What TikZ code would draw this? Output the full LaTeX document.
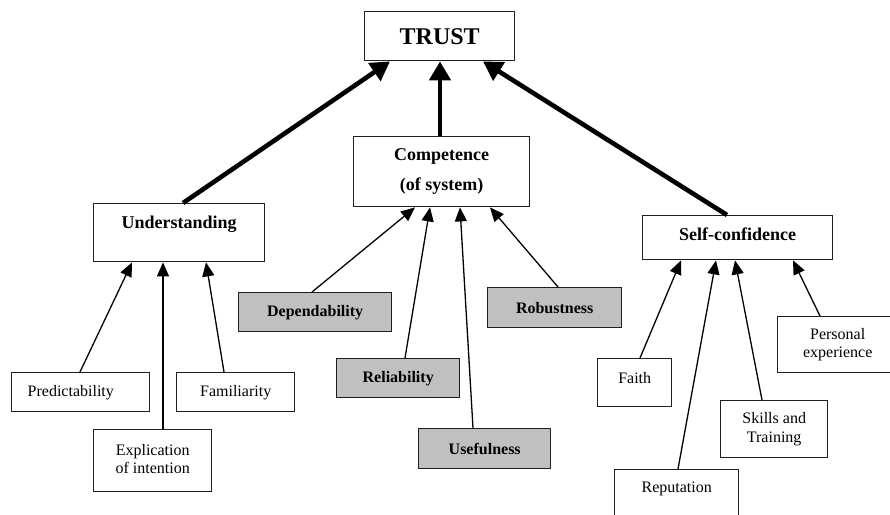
\documentclass[tikz,border=0pt]{standalone}
\usepackage{fontspec}
\setmainfont{Liberation Serif}
\usetikzlibrary{arrows.meta}
\definecolor{boxgray}{HTML}{C0C0C0}
\definecolor{edge}{HTML}{1E1E1E}
\begin{document}
\begin{tikzpicture}[x=1pt,y=-1pt,
  box/.style={draw=edge, line width=1.4pt, fill=white, inner sep=0pt, anchor=north west, align=center},
  shaded/.style={box, fill=boxgray, font=\fontsize{16}{19}\selectfont\bfseries},
  plain/.style={box, font=\fontsize{16}{18.5}\selectfont},
  mid/.style={box, font=\fontsize{18}{22}\selectfont\bfseries},
  major/.style={line width=4.6pt, -{Triangle[length=19pt,width=21pt]}},
  minor/.style={line width=1.3pt, -{Triangle[length=14pt,width=12pt]}}]
\useasboundingbox (0,0) rectangle (890,514);
\clip (0,0) rectangle (890,514);

% top level
\node[box, font=\fontsize{24}{28}\selectfont\bfseries, minimum width=150pt, minimum height=49pt] (trust) at (364,11) {TRUST};

% second level
\node[mid, minimum width=176pt, minimum height=70pt] (comp) at (353,136) {Competence\\[8pt](of system)};
\node[mid, minimum width=171pt, text height=25pt, text depth=33pt] (und) at (93,203) {Understanding};
\node[mid, minimum width=190pt, text height=25pt, text depth=19pt] (self) at (642,215) {Self-confidence};

% factors of competence
\node[shaded, minimum width=153pt, minimum height=39pt] (dep) at (238,292) {Dependability};
\node[shaded, minimum width=123pt, minimum height=39pt] (rel) at (336,358) {Reliability};
\node[shaded, minimum width=132pt, minimum height=40pt] (use) at (418,428) {Usefulness};
\node[shaded, minimum width=134pt, minimum height=40pt] (rob) at (487,287) {Robustness};

% factors of understanding
\node[plain, text width=106pt, inner xsep=16pt, align=left, minimum height=39pt] (pred) at (11,372) {Predictability};
\node[plain, minimum width=118pt, minimum height=39pt] (fam) at (176,372) {Familiarity};
\node[plain, minimum width=118pt, minimum height=62pt] (expl) at (93,429)
  {\raisebox{4pt}{\begin{tabular}{@{}c@{}}Explication\\of intention\end{tabular}}};

% factors of self-confidence
\node[plain, minimum width=74pt, text height=25pt, text depth=23pt] (faith) at (597,358) {Faith};
\node[plain, minimum width=124pt, text height=23pt, text depth=38pt] (rep) at (614,469) {Reputation};
\node[plain, minimum width=107pt, minimum height=57pt] (skill) at (720,400) {Skills and\\Training};
\node[plain, minimum width=120pt, minimum height=56pt] (pers) at (777,316) {Personal\\experience};

% main links
\draw[major] ([xshift=90pt]und.north west) -- ([xshift=26pt]trust.south west);
\draw[major] ([xshift=87pt]comp.north west) -- ([xshift=76pt]trust.south west);
\draw[major] ([xshift=85pt]self.north west) -- ([xshift=119pt]trust.south west);

% competence links
\draw[minor] ([xshift=74pt]dep.north west) -- ([xshift=62pt]comp.south west);
\draw[minor] ([xshift=69pt]rel.north west) -- ([xshift=77pt]comp.south west);
\draw[minor] ([xshift=55pt]use.north west) -- ([xshift=107pt]comp.south west);
\draw[minor] ([xshift=71pt]rob.north west) -- ([xshift=137pt]comp.south west);

% understanding links
\draw[minor] ([xshift=69pt]pred.north west) -- ([xshift=39pt]und.south west);
\draw[minor] ([xshift=70pt]expl.north west) -- ([xshift=70pt]und.south west);
\draw[minor] ([xshift=48pt]fam.north west) -- ([xshift=113pt]und.south west);

% self-confidence links
\draw[minor] ([xshift=43pt]faith.north west) -- ([xshift=39pt]self.south west);
\draw[minor] ([xshift=64pt]rep.north west) -- ([xshift=74pt]self.south west);
\draw[minor] ([xshift=42pt]skill.north west) -- ([xshift=93pt]self.south west);
\draw[minor] ([xshift=43pt]pers.north west) -- ([xshift=151pt]self.south west);
\end{tikzpicture}
\end{document}
